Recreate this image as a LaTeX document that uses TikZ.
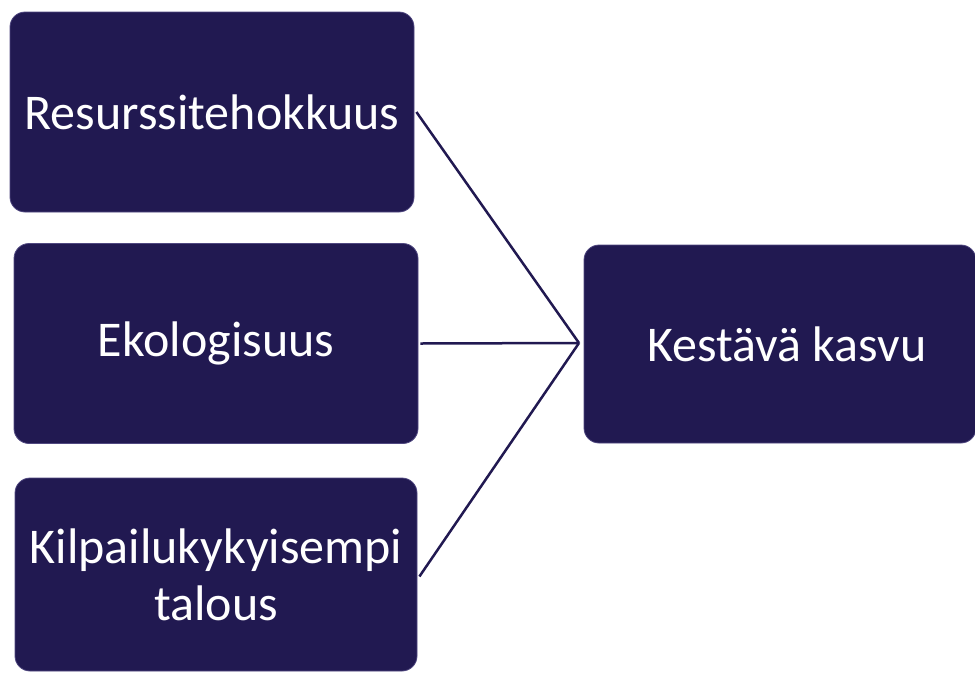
\documentclass[tikz,border=0pt]{standalone}
\usepackage{fontspec}
\setmainfont{Carlito}
\definecolor{navy}{RGB}{33,25,81}
\definecolor{navyedge}{RGB}{80,72,128}
\begin{document}
\begin{tikzpicture}[x=1pt,y=-1pt,
  box/.style={rectangle, rounded corners=15pt, fill=navy, draw=navyedge, line width=0.8pt,
    text=white, font=\fontsize{50}{57}\selectfont, align=center, inner sep=0pt},
  link/.style={draw=navy, line width=2.5pt}]
\useasboundingbox (0,0) rectangle (975,673);
\node[box, minimum width=404pt, minimum height=200pt] (res) at (212,112) {Resurssitehokkuus};
\node[box, minimum width=404pt, minimum height=200pt] (eko) at (216,343.5) {Ekologisuus};
\node[box, minimum width=402pt, minimum height=193pt] (kil) at (216,574.5) {Kilpailukykyisempi\\talous};
\node[box, minimum width=392pt, minimum height=198pt] (kes) at (780,344) {\hspace*{14pt}Kestävä kasvu};
\coordinate (hub) at (579,343);
\draw[link] ([xshift=2pt]res.east) -- (hub);
\draw[link] ([xshift=2pt]eko.east) -- (hub);
\draw[link] ([xshift=2pt,yshift=-2pt]kil.east) -- (hub);
\end{tikzpicture}
\end{document}
